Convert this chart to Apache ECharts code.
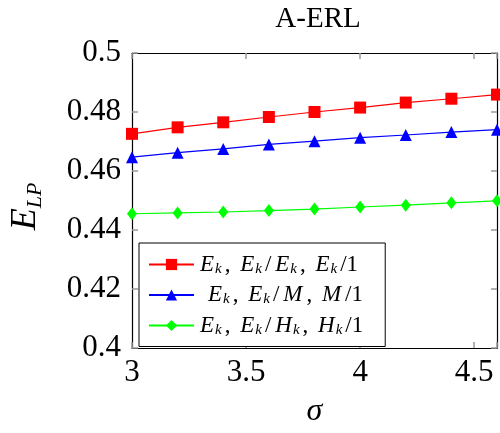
<!DOCTYPE html>
<html><head><meta charset="utf-8">
<script src="https://cdn.jsdelivr.net/npm/echarts@6/dist/echarts.min.js"></script>
<style>html,body{margin:0;padding:0;background:#fff}#c{width:500px;height:433px}</style>
</head><body><div id="c"></div>
<script>
const sigma = [3.0, 3.2, 3.4, 3.6, 3.8, 4.0, 4.2, 4.4, 4.6];
const seriesEkEk = [0.4726, 0.4748, 0.4765, 0.4783, 0.4800, 0.4815, 0.4832, 0.4845, 0.4859];
const seriesEkM  = [0.4647, 0.4662, 0.4675, 0.4690, 0.4701, 0.4713, 0.4722, 0.4732, 0.4740];
const seriesEkHk = [0.4455, 0.4458, 0.4461, 0.4466, 0.4471, 0.4478, 0.4484, 0.4492, 0.4499];
const xTicks = [3, 3.5, 4, 4.5];
const yTicks = [0.4, 0.42, 0.44, 0.46, 0.48, 0.5];

const SERIF = 'Liberation Serif';
const legendText = {
  a: '{n|E}{s|k}{r|, }{n|E}{s|k}{r|/}{n|E}{s|k}{r|, }{n|E}{s|k}{r|/1}',
  b: '{p|}{n|E}{s|k}{r|, }{n|E}{s|k}{r|/}{n|M}{r|, }{n|M}{r|/1}',
  c: '{n|E}{s|k}{r|, }{n|E}{s|k}{r|/}{n|H}{s|k}{r|, }{n|H}{s|k}{r|/1}'
};
const mk = (arr) => sigma.map((x, i) => [x, arr[i]]);
const tickStyle = {show: true, inside: true, length: 6, lineStyle: {color: '#999', width: 1.5}};
const fmtX = v => xTicks.some(t => Math.abs(t - v) < 1e-9) ? String(v) : '';
const fmtY = v => yTicks.some(t => Math.abs(t - v) < 1e-9) ? String(+v.toFixed(2)) : '';
const option = {
  animation: false,
  backgroundColor: '#fff',
  textStyle: {fontFamily: SERIF},
  title: {text: 'A-ERL', left: 313, top: 0, textAlign: 'center',
    textStyle: {fontFamily: SERIF, fontSize: 29, fontWeight: 'normal', color: '#000'}},
  grid: {left: 127, right: 0, top: 53, bottom: 75, containLabel: false},
  xAxis: [{
    type: 'value', min: 3, max: 4.6, interval: 0.5,
    name: '{i|σ}', nameLocation: 'middle', nameGap: 48,
    nameTextStyle: {rich: {i: {fontFamily: SERIF, fontStyle: 'italic', fontSize: 32, color: '#000'}}},
    axisLine: {show: true, onZero: false, lineStyle: {color: '#000', width: 1.2}},
    axisTick: tickStyle, splitLine: {show: false},
    axisLabel: {formatter: fmtX, fontFamily: SERIF, fontSize: 31, color: '#000', margin: 9}
  }, {
    type: 'value', position: 'top', min: 3, max: 4.6, interval: 0.5,
    axisLine: {show: true, onZero: false, lineStyle: {color: '#000', width: 1.2}},
    axisTick: tickStyle, axisLabel: {show: false}, splitLine: {show: false}
  }],
  yAxis: [{
    type: 'value', min: 0.4, max: 0.5, interval: 0.02,
    name: '{n|E}{s|LP}', nameLocation: 'middle', nameGap: 86, nameRotate: 90,
    nameTextStyle: {rich: {
      n: {fontFamily: SERIF, fontStyle: 'italic', fontSize: 36, lineHeight: 40, color: '#000'},
      s: {fontFamily: SERIF, fontStyle: 'italic', fontSize: 22, lineHeight: 22, verticalAlign: 'bottom', color: '#000', padding: [0, 12, 0, 0]}
    }},
    axisLine: {show: true, onZero: false, lineStyle: {color: '#000', width: 1.2}},
    axisTick: tickStyle, splitLine: {show: false},
    axisLabel: {formatter: fmtY, fontFamily: SERIF, fontSize: 31, color: '#000', margin: 11}
  }, {
    type: 'value', position: 'right', min: 0.4, max: 0.5, interval: 0.02,
    axisLine: {show: true, onZero: false, lineStyle: {color: '#000', width: 1.2}},
    axisTick: tickStyle, axisLabel: {show: false}, splitLine: {show: false}
  }],
  legend: {
    orient: 'vertical', left: 139, top: 243,
    padding: [10, 19, 9, 9], itemGap: 7, itemWidth: 45, itemHeight: 14,
    borderColor: '#000', borderWidth: 1, backgroundColor: '#fff', borderRadius: 0,
    formatter: name => legendText[name],
    textStyle: {fontFamily: SERIF, rich: {
      n: {fontFamily: SERIF, fontStyle: 'italic', fontSize: 23, lineHeight: 24, color: '#000', padding: [0, 1, 0, 1]},
      s: {fontFamily: SERIF, fontStyle: 'italic', fontSize: 15, lineHeight: 13, verticalAlign: 'bottom', color: '#000'},
      r: {fontFamily: SERIF, fontSize: 23, lineHeight: 24, color: '#000', padding: [0, 3, 0, 3]},
      p: {width: 8}
    }},
    data: ['a', 'b', 'c']
  },
  series: [
    {name: 'a', type: 'line', data: mk(seriesEkEk), symbol: 'rect', symbolSize: 12,
     lineStyle: {color: '#ff0000', width: 1.2}, itemStyle: {color: '#ff0000'}, clip: false},
    {name: 'b', type: 'line', data: mk(seriesEkM), symbol: 'triangle', symbolSize: 12,
     lineStyle: {color: '#0000ff', width: 1.2}, itemStyle: {color: '#0000ff'}, clip: false},
    {name: 'c', type: 'line', data: mk(seriesEkHk), symbol: 'diamond', symbolSize: [10, 13],
     lineStyle: {color: '#00ff00', width: 1.2}, itemStyle: {color: '#00ff00'}, clip: false}
  ]
};
const warm = document.createElement('canvas').getContext('2d');
['31px "Liberation Serif"', 'italic 23px "Liberation Serif"'].forEach(f => { warm.font = f; warm.fillText('0.48 Ek', 0, 20); });
const chart = echarts.init(document.getElementById('c'), null, {renderer: 'canvas'});
chart.setOption(option);
const redraw = () => { chart.clear(); chart.setOption(option); };
if (document.fonts && document.fonts.load) {
  Promise.all([
    document.fonts.load('31px "Liberation Serif"'),
    document.fonts.load('italic 23px "Liberation Serif"')
  ]).then(redraw, redraw);
}
setTimeout(redraw, 50);
</script></body></html>
